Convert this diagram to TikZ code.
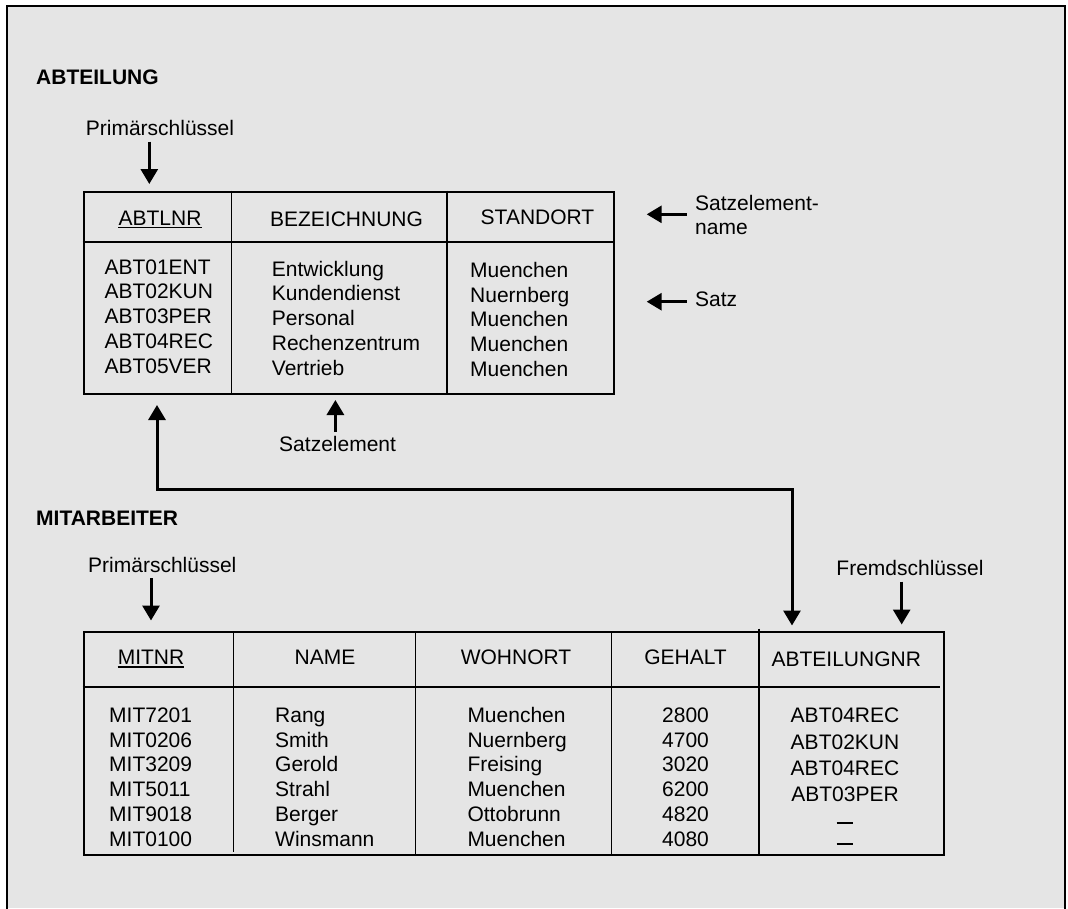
\documentclass[tikz,border=0pt]{standalone}
\usepackage{fontspec}
\setmainfont{Liberation Sans}
\usetikzlibrary{arrows.meta}
\definecolor{panel}{HTML}{E5E5E5}
\tikzset{
  txt/.style={inner sep=0pt, font=\fontsize{21}{25}\selectfont},
  ttl/.style={inner sep=0pt, font=\fontsize{21}{25}\selectfont\bfseries},
  frame/.style={draw, line width=2pt, inner sep=0pt, anchor=north west},
  thin/.style={line width=1.3pt},
  heavy/.style={line width=2pt},
  ulin/.style={line width=1.5pt},
  pointer/.style={line width=3pt, -{Triangle[width=17pt,length=15pt]}},
  link/.style={line width=3pt, miter limit=10,
    {Triangle[width=17pt,length=15pt]}-{Triangle[width=17pt,length=15pt]}},
}
\begin{document}
\begin{tikzpicture}[x=1pt,y=-1pt]
\useasboundingbox (0,0) rectangle (1068,908);
% page panel
\fill[white] (0,0) rectangle (1068,908);
\fill[panel] (7,6) rectangle (1065,908);
\draw[heavy] (7,910) -- (7,6) -- (1065,6) -- (1065,910);

% ---------- ABTEILUNG ----------
\node[ttl, anchor=base west] (t1) at (36,84) {ABTEILUNG};
\node[txt, anchor=base] (pk1) at (160,135) {Primärschlüssel};
\coordinate (pk1a) at (149.3,141.7);
\coordinate (pk1b) at (149.3,184);
\draw[pointer] (pk1a) -- (pk1b);

\node[frame, minimum width=530.6pt, minimum height=202.3pt] (abt) at (82.7,190.7) {};
\draw[heavy] (82.7,241.7) -- (612.7,241.7);
\draw[thin] (231.5,190.7) -- (231.5,393);
\draw[thin] (447,190.7) -- (447,393);

\node[txt, anchor=base] (h11) at (160,225) {ABTLNR};
\draw[ulin] ([yshift=-2.6pt]h11.base west) -- ([yshift=-2.6pt]h11.base east);
\node[txt, anchor=base] (h12) at (346.5,226) {BEZEICHNUNG};
\node[txt, anchor=base] (h13) at (537.5,224) {STANDORT};

\foreach \t [count=\i] in {ABT01ENT,ABT02KUN,ABT03PER,ABT04REC,ABT05VER}
  \node[txt, anchor=base west] (a1-\i) at (104.3,{274+24.8*(\i-1)}) {\t};
\foreach \t [count=\i] in {Entwicklung,Kundendienst,Personal,Rechenzentrum,Vertrieb}
  \node[txt, anchor=base west] (a2-\i) at (271.7,{276+24.8*(\i-1)}) {\t};
\foreach \t [count=\i] in {Muenchen,Nuernberg,Muenchen,Muenchen,Muenchen}
  \node[txt, anchor=base west] (a3-\i) at (470,{277.3+24.8*(\i-1)}) {\t};

% annotations right of the table
\node[txt, anchor=base west] (sen1) at (695,210.7) {Satzelement-};
\node[txt, anchor=base west] (sen2) at (695,234) {name};
\coordinate (sena) at (686.7,214.3);
\coordinate (senb) at (646.7,214.3);
\draw[pointer] (sena) -- (senb);
\node[txt, anchor=base west] (satz) at (695,306) {Satz};
\coordinate (satza) at (686.7,301.7);
\coordinate (satzb) at (646.7,301.7);
\draw[pointer] (satza) -- (satzb);

% annotation below the table
\node[txt, anchor=base] (se) at (337.6,451) {Satzelement};
\coordinate (sea) at (335.4,432);
\coordinate (seb) at (335.4,400);
\draw[pointer] (sea) -- (seb);

% ---------- foreign key link ----------
\coordinate (lnkTop) at (157,405);
\coordinate (lnkBot) at (792,625.5);
\coordinate (bend) at (0,489.3);
\draw[link] (lnkTop) -- (lnkTop |- bend) -- (bend -| lnkBot) -- (lnkBot);

% ---------- MITARBEITER ----------
\node[ttl, anchor=base west] (t2) at (36,525) {MITARBEITER};
\node[txt, anchor=base west] (pk2) at (88,572) {Primärschlüssel};
\coordinate (pk2a) at (151,578);
\coordinate (pk2b) at (151,620.5);
\draw[pointer] (pk2a) -- (pk2b);
\node[txt, anchor=base] (fk) at (910,575) {Fremdschlüssel};
\coordinate (fka) at (901.7,581.7);
\coordinate (fkb) at (901.7,624.5);
\draw[pointer] (fka) -- (fkb);

\node[frame, minimum width=860.6pt, minimum height=223pt] (mit) at (82.7,631) {};
\draw[heavy] (82.7,686.7) -- (940,686.7);
\draw[thin] (233.3,631) -- (233.3,851.7);
\draw[thin] (415.3,631) -- (415.3,854);
\draw[thin] (611.7,631) -- (611.7,854);
\draw[thin] (759,628.5) -- (759,854);

\node[txt, anchor=base] (h21) at (151,664) {MITNR};
\draw[ulin] ([yshift=-2.8pt]h21.base west) -- ([yshift=-2.8pt]h21.base east);
\node[txt, anchor=base] (h22) at (325,664) {NAME};
\node[txt, anchor=base] (h23) at (516,664) {WOHNORT};
\node[txt, anchor=base] (h24) at (685.5,664.3) {GEHALT};
\node[txt, anchor=base] (h25) at (846.3,666) {ABTEILUNGNR};

\foreach \t [count=\i] in {MIT7201,MIT0206,MIT3209,MIT5011,MIT9018,MIT0100}
  \node[txt, anchor=base west] (m1-\i) at (109,{722.3+24.8*(\i-1)}) {\t};
\foreach \t [count=\i] in {Rang,Smith,Gerold,Strahl,Berger,Winsmann}
  \node[txt, anchor=base west] (m2-\i) at (275,{722.3+24.8*(\i-1)}) {\t};
\foreach \t [count=\i] in {Muenchen,Nuernberg,Freising,Muenchen,Ottobrunn,Muenchen}
  \node[txt, anchor=base west] (m3-\i) at (467.3,{722.3+24.8*(\i-1)}) {\t};
\foreach \t [count=\i] in {2800,4700,3020,6200,4820,4080}
  \node[txt, anchor=base] (m4-\i) at (685.5,{722.3+24.8*(\i-1)}) {\t};
\node[txt, anchor=base] (m5-1) at (845,722.3) {ABT04REC};
\node[txt, anchor=base] (m5-2) at (845,749.3) {ABT02KUN};
\node[txt, anchor=base] (m5-3) at (845,775) {ABT04REC};
\node[txt, anchor=base] (m5-4) at (845,801.7) {ABT03PER};
\node[txt, anchor=base] (m5-5) at (845,823.7) {\rule{16.6pt}{2pt}};
\node[txt, anchor=base] (m5-6) at (845,844.7) {\rule{16.6pt}{2pt}};
\end{tikzpicture}
\end{document}
